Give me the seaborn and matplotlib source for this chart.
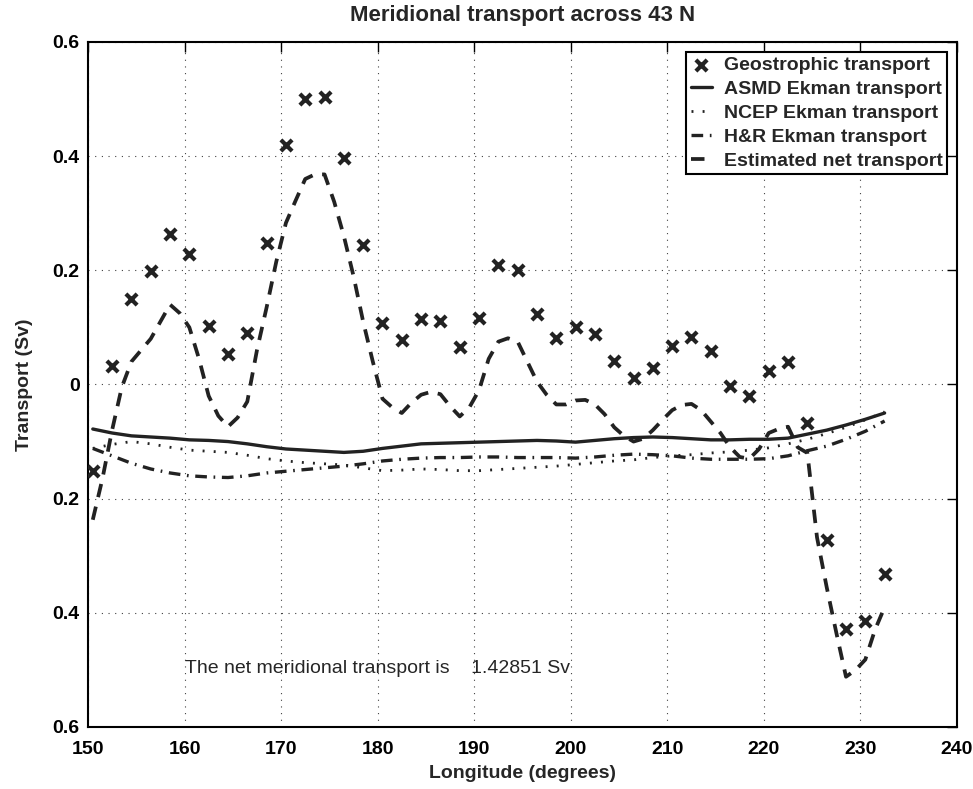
import numpy as np
import pandas as pd
import seaborn as sns
import matplotlib
matplotlib.use("Agg")
import matplotlib.pyplot as plt

# longitudes of the geostrophic / Ekman estimates (every 2 degrees)
lon = np.arange(150.5, 233, 2.0)

geo = [-0.151, 0.033, 0.150, 0.198, 0.263, 0.228, 0.102, 0.053, 0.091, 0.248,
       0.420, 0.500, 0.503, 0.396, 0.245, 0.108, 0.078, 0.115, 0.111, 0.066,
       0.116, 0.209, 0.200, 0.124, 0.081, 0.100, 0.089, 0.042, 0.012, 0.028,
       0.067, 0.084, 0.059, -0.002, -0.020, 0.023, 0.040, -0.067, -0.272, -0.429,
       -0.414, -0.332]

asmd = [-0.078, -0.085, -0.090, -0.092, -0.094, -0.097, -0.098, -0.100, -0.104, -0.109,
        -0.113, -0.115, -0.117, -0.119, -0.117, -0.112, -0.108, -0.104, -0.103, -0.102,
        -0.101, -0.100, -0.099, -0.098, -0.099, -0.101, -0.098, -0.095, -0.093, -0.092,
        -0.093, -0.095, -0.097, -0.097, -0.096, -0.096, -0.094, -0.087, -0.080, -0.071,
        -0.061, -0.050]

ncep = [-0.112, -0.105, -0.100, -0.104, -0.110, -0.115, -0.117, -0.119, -0.124, -0.130,
        -0.134, -0.137, -0.139, -0.141, -0.146, -0.151, -0.150, -0.148, -0.149, -0.151,
        -0.151, -0.149, -0.147, -0.145, -0.143, -0.140, -0.137, -0.134, -0.132, -0.128,
        -0.125, -0.123, -0.120, -0.118, -0.115, -0.111, -0.104, -0.096, -0.086, -0.075,
        -0.062, -0.048]

hr = [-0.112, -0.125, -0.138, -0.148, -0.155, -0.160, -0.162, -0.163, -0.160, -0.155,
      -0.152, -0.149, -0.146, -0.143, -0.139, -0.134, -0.131, -0.129, -0.128, -0.128,
      -0.127, -0.127, -0.128, -0.128, -0.128, -0.129, -0.127, -0.124, -0.122, -0.123,
      -0.125, -0.129, -0.131, -0.131, -0.131, -0.130, -0.125, -0.116, -0.108, -0.096,
      -0.082, -0.064]

# estimated net transport (1 degree resolution)
lon_net = np.arange(150.5, 233, 1.0)
net = [-0.237, -0.165, -0.080, -0.005, 0.040, 0.060, 0.080, 0.110, 0.140, 0.125,
       0.100, 0.045, -0.020, -0.055, -0.074, -0.058, -0.030, 0.060, 0.135, 0.215,
       0.283, 0.322, 0.360, 0.368, 0.368, 0.320, 0.260, 0.190, 0.110, 0.040,
       -0.025, -0.040, -0.050, -0.032, -0.018, -0.013, -0.017, -0.038, -0.056, -0.040,
       -0.010, 0.045, 0.075, 0.081, 0.075, 0.040, 0.005, -0.018, -0.035, -0.035,
       -0.028, -0.027, -0.035, -0.052, -0.075, -0.090, -0.100, -0.095, -0.080, -0.062,
       -0.045, -0.036, -0.034, -0.045, -0.065, -0.085, -0.110, -0.127, -0.130, -0.113,
       -0.085, -0.078, -0.074, -0.110, -0.120, -0.268, -0.355, -0.435, -0.512, -0.500,
       -0.482, -0.430, -0.390]

yticks = [-0.6, -0.4, -0.2, 0, 0.2, 0.4, 0.6]
ytick_labels = ["0.6", "0.4", "0.2", "0", "0.2", "0.4", "0.6"]
xticks = list(range(150, 241, 10))

sns.set_style("white")
plt.rcParams["font.family"] = ["Liberation Sans", "DejaVu Sans"]
plt.rcParams["font.weight"] = "bold"

col = "#222222"
fig = plt.figure(figsize=(9.73, 7.89), dpi=100)
ax = fig.add_axes([0.0904, 0.0786, 0.8932, 0.8682])

sns.scatterplot(x=lon, y=geo, marker="x", s=65, linewidth=3, color=col,
                label="Geostrophic transport", ax=ax, zorder=5)
sns.lineplot(x=lon, y=asmd, color=col, lw=2.4, label="ASMD Ekman transport", ax=ax)
sns.lineplot(x=lon, y=ncep, color=col, lw=2.0, linestyle=(0, (0.7, 3.3)),
             label="NCEP Ekman transport", ax=ax)
sns.lineplot(x=lon, y=hr, color=col, lw=2.4, linestyle=(0, (3.5, 2, 0.5, 2)),
             label="H&R Ekman transport", ax=ax)
sns.lineplot(x=lon_net, y=net, color=col, lw=2.7, linestyle=(0, (3.6, 2.6)),
             label="Estimated net transport", ax=ax)

ax.set_xlim(150, 240)
ax.set_ylim(-0.6, 0.6)
ax.set_xticks(xticks)
ax.set_yticks(yticks)
ax.set_yticklabels(ytick_labels)
ax.tick_params(direction="in", top=True, right=True, length=7, width=1,
               labelsize=14, colors="black")
ax.tick_params(axis="x", pad=10)
ax.tick_params(axis="y", pad=6)
for lab in ax.get_xticklabels() + ax.get_yticklabels():
    lab.set_fontweight("bold")
for sp in ax.spines.values():
    sp.set_color("black")
    sp.set_linewidth(1.5)
ax.grid(True, linestyle=(0, (1, 5)), color="black", linewidth=0.8, alpha=0.75)

ax.set_xlabel("Longitude (degrees)", fontsize=14, fontweight="bold", labelpad=5)
ax.set_ylabel("Transport (Sv)", fontsize=14, fontweight="bold", labelpad=14)
ax.set_title("Meridional transport across 43 N", fontsize=16, fontweight="bold", pad=15)

ax.text(160.1, -0.497, "The net meridional transport is    1.42851 Sv",
        fontsize=14, fontweight="normal", va="center", ha="left")

leg = ax.legend(loc="upper right", fontsize=14, handlelength=1.1, handletextpad=0.6,
                borderpad=0.25, labelspacing=0.32, fancybox=False, framealpha=1,
                edgecolor="black", borderaxespad=0.5)
leg.get_frame().set_linewidth(1.5)
for t in leg.get_texts():
    t.set_fontweight("bold")

fig.savefig("out.png", dpi=100)
